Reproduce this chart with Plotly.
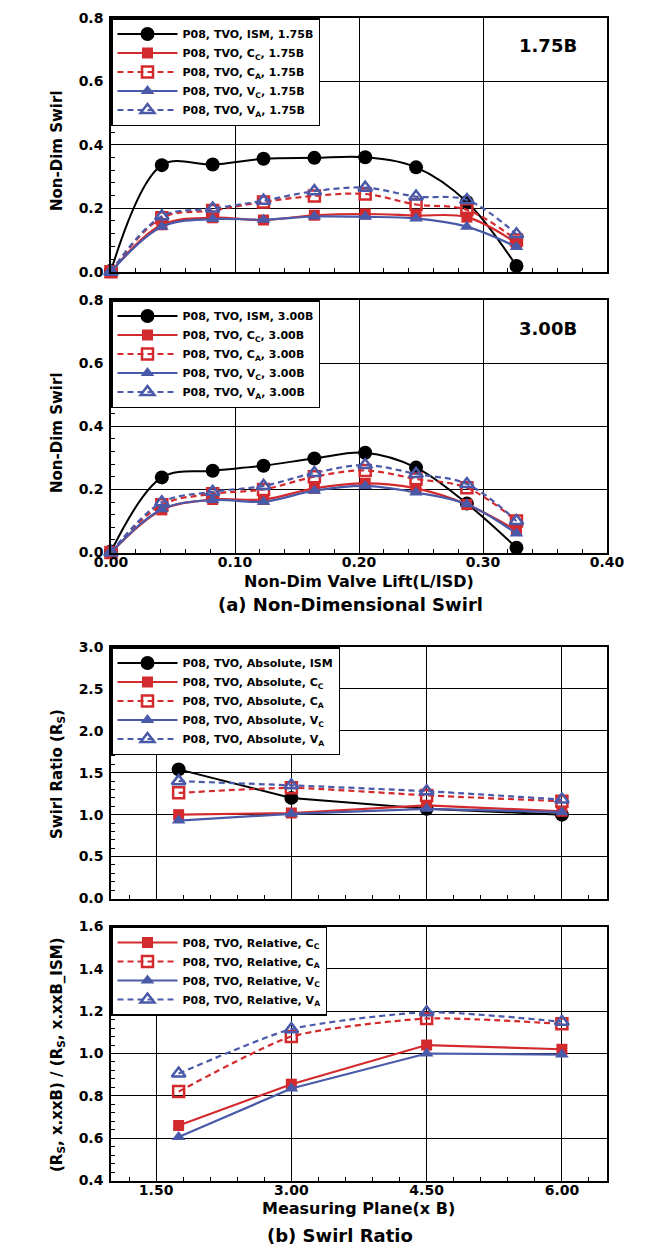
import plotly.graph_objects as go

# ---------------- data ----------------
lift = [0.000, 0.041, 0.082, 0.123, 0.164, 0.205, 0.246, 0.287, 0.327]

ism_175 = [0.003, 0.336, 0.338, 0.356, 0.359, 0.361, 0.329, 0.220, 0.018]
cc_175 = [0.000, 0.148, 0.170, 0.163, 0.178, 0.182, 0.177, 0.172, 0.090]
ca_175 = [0.000, 0.170, 0.193, 0.220, 0.239, 0.245, 0.212, 0.195, 0.100]
vc_175 = [0.000, 0.142, 0.166, 0.164, 0.174, 0.173, 0.168, 0.142, 0.078]
va_175 = [0.000, 0.175, 0.199, 0.224, 0.254, 0.265, 0.237, 0.226, 0.118]

ism_300 = [0.003, 0.238, 0.259, 0.275, 0.298, 0.316, 0.269, 0.155, 0.015]
cc_300 = [0.000, 0.135, 0.168, 0.168, 0.203, 0.219, 0.203, 0.152, 0.070]
ca_300 = [0.000, 0.151, 0.186, 0.200, 0.240, 0.260, 0.233, 0.205, 0.100]
vc_300 = [0.000, 0.137, 0.166, 0.161, 0.196, 0.211, 0.190, 0.153, 0.060]
va_300 = [0.000, 0.159, 0.192, 0.211, 0.252, 0.277, 0.249, 0.217, 0.100]

planes = [1.75, 3.00, 4.50, 6.00]
abs_ism = [1.54, 1.20, 1.07, 1.00]
abs_cc = [1.00, 1.02, 1.11, 1.04]
abs_ca = [1.26, 1.32, 1.23, 1.16]
abs_vc = [0.93, 1.01, 1.07, 1.03]
abs_va = [1.40, 1.35, 1.28, 1.18]

rel_cc = [0.660, 0.855, 1.040, 1.020]
rel_ca = [0.820, 1.080, 1.165, 1.140]
rel_vc = [0.605, 0.835, 1.000, 0.995]
rel_va = [0.905, 1.115, 1.195, 1.150]

# ---------------- styles ----------------
OFF = 8  # page body margin
W, H = 663 - OFF, 1259 - OFF
RED = '#d32a2e'
BLUE = '#4a5aa8'
FONT = 'DejaVu Sans'

STY = {
    'ism': dict(line=dict(color='black', width=2), marker=dict(symbol='circle', size=14, color='black')),
    'cc': dict(line=dict(color=RED, width=2.2), marker=dict(symbol='square', size=11, color=RED)),
    'ca': dict(line=dict(color=RED, width=2.2, dash='6px,4px'),
               marker=dict(symbol='square-open', size=11, color=RED, line=dict(width=2.5, color=RED))),
    'vc': dict(line=dict(color=BLUE, width=2.2), marker=dict(symbol='triangle-up', size=12, color=BLUE)),
    'va': dict(line=dict(color=BLUE, width=2.2, dash='6px,4px'),
               marker=dict(symbol='triangle-up-open', size=12, color=BLUE, line=dict(width=2.5, color=BLUE))),
}


def px_x(p):
    return (p - OFF) / W


def px_y(p):
    return 1 - (p - OFF) / H


fig = go.Figure()


def add(x, y, name, key, ax, legend, shape='spline', smoothing=1.0):
    st = STY[key]
    line = dict(st['line'])
    line['shape'] = shape
    if shape == 'spline':
        line['smoothing'] = smoothing
    fig.add_trace(go.Scatter(
        x=x, y=y, name=name, mode='lines+markers', line=line, marker=st['marker'],
        xaxis='x' + ax, yaxis='y' + ax, legend=legend, cliponaxis=False))


# panel 1
add(lift, ism_175, 'P08, TVO, ISM, 1.75B', 'ism', '', 'legend')
add(lift, cc_175, 'P08, TVO, C<sub>C</sub>, 1.75B', 'cc', '', 'legend')
add(lift, ca_175, 'P08, TVO, C<sub>A</sub>, 1.75B', 'ca', '', 'legend')
add(lift, vc_175, 'P08, TVO, V<sub>C</sub>, 1.75B', 'vc', '', 'legend')
add(lift, va_175, 'P08, TVO, V<sub>A</sub>, 1.75B', 'va', '', 'legend')
# panel 2
add(lift, ism_300, 'P08, TVO, ISM, 3.00B', 'ism', '2', 'legend2')
add(lift, cc_300, 'P08, TVO, C<sub>C</sub>, 3.00B', 'cc', '2', 'legend2')
add(lift, ca_300, 'P08, TVO, C<sub>A</sub>, 3.00B', 'ca', '2', 'legend2')
add(lift, vc_300, 'P08, TVO, V<sub>C</sub>, 3.00B', 'vc', '2', 'legend2')
add(lift, va_300, 'P08, TVO, V<sub>A</sub>, 3.00B', 'va', '2', 'legend2')
# panel 3
add(planes, abs_ism, 'P08, TVO, Absolute, ISM', 'ism', '3', 'legend3', shape='linear')
add(planes, abs_cc, 'P08, TVO, Absolute, C<sub>C</sub>', 'cc', '3', 'legend3', shape='linear')
add(planes, abs_ca, 'P08, TVO, Absolute, C<sub>A</sub>', 'ca', '3', 'legend3', smoothing=0.5)
add(planes, abs_vc, 'P08, TVO, Absolute, V<sub>C</sub>', 'vc', '3', 'legend3', shape='linear')
add(planes, abs_va, 'P08, TVO, Absolute, V<sub>A</sub>', 'va', '3', 'legend3', smoothing=0.5)
# panel 4
add(planes, rel_cc, 'P08, TVO, Relative, C<sub>C</sub>', 'cc', '4', 'legend4', shape='linear')
add(planes, rel_ca, 'P08, TVO, Relative, C<sub>A</sub>', 'ca', '4', 'legend4', smoothing=0.6)
add(planes, rel_vc, 'P08, TVO, Relative, V<sub>C</sub>', 'vc', '4', 'legend4', shape='linear')
add(planes, rel_va, 'P08, TVO, Relative, V<sub>A</sub>', 'va', '4', 'legend4', smoothing=0.6)

XDOM = [px_x(111), px_x(607)]
tickfont = dict(family=FONT, size=14, color='black', weight='bold')


def axis_common(**kw):
    d = dict(showline=True, linecolor='black', linewidth=1.5, mirror=True,
             ticks='inside', ticklen=7, tickwidth=1, tickcolor='black',
             showgrid=True, gridcolor='black', gridwidth=1, zeroline=False,
             tickfont=tickfont, ticklabelstandoff=3, fixedrange=True, automargin=False)
    d.update(kw)
    return d


MINX1 = dict(dtick=0.02, ticks='inside', ticklen=4, tickcolor='black', showgrid=False)
MINY1 = dict(dtick=0.04, ticks='inside', ticklen=4, tickcolor='black', showgrid=False)
MINX3 = dict(tick0=1.5, dtick=0.3, ticks='inside', ticklen=4, tickcolor='black', showgrid=False)
MINY3 = dict(dtick=0.1, ticks='inside', ticklen=4, tickcolor='black', showgrid=False)

lay = dict(
    width=W, height=H, margin=dict(l=0, r=0, t=0, b=0, autoexpand=False),
    paper_bgcolor='white', plot_bgcolor='white', showlegend=True,
    font=dict(family=FONT, color='black'),
    # panel 1
    xaxis=axis_common(domain=XDOM, anchor='y', range=[0, 0.4], dtick=0.1, tickformat='.2f',
                      showticklabels=False, minor=MINX1),
    yaxis=axis_common(domain=[px_y(271.7), px_y(18)], anchor='x', range=[0, 0.8], dtick=0.2,
                      tickformat='.1f', minor=MINY1),
    # panel 2
    xaxis2=axis_common(domain=XDOM, anchor='y2', range=[0, 0.4], dtick=0.1, tickformat='.2f',
                       ticklabelstandoff=-4, minor=MINX1),
    yaxis2=axis_common(domain=[px_y(552.5), px_y(300)], anchor='x2', range=[0, 0.8], dtick=0.2,
                       tickformat='.1f', minor=MINY1),
    # panel 3
    xaxis3=axis_common(domain=XDOM, anchor='y3', range=[1.0, 6.5], tickvals=[1.5, 3.0, 4.5, 6.0],
                       tickformat='.2f', showticklabels=False, minor=MINX3),
    yaxis3=axis_common(domain=[px_y(898.5), px_y(647)], anchor='x3', range=[0, 3.0], dtick=0.5,
                       tickformat='.1f', minor=MINY3),
    # panel 4
    xaxis4=axis_common(domain=XDOM, anchor='y4', range=[1.0, 6.5], tickvals=[1.5, 3.0, 4.5, 6.0],
                       tickformat='.2f', ticklabelstandoff=-4, minor=MINX3),
    yaxis4=axis_common(domain=[px_y(1180.5), px_y(926.5)], anchor='x4', range=[0.4, 1.6], dtick=0.2,
                       tickformat='.1f', minor=MINY1),
)

legfont = dict(family=FONT, size=11, color='black', weight='bold')


def leg(py):
    return dict(x=px_x(111), y=px_y(py), xanchor='left', yanchor='top', bgcolor='white',
                bordercolor='black', borderwidth=1.5, font=legfont, itemwidth=60,
                tracegroupgap=0, itemclick=False, itemdoubleclick=False)


lay['legend'] = leg(18)
lay['legend2'] = leg(300)
lay['legend3'] = leg(647)
lay['legend4'] = leg(926.5)

fig.update_layout(**lay)


def ann(text, x, y, size, angle=0):
    fig.add_annotation(text=text, x=px_x(x), y=px_y(y), xref='paper', yref='paper',
                       showarrow=False, textangle=angle, xanchor='center', yanchor='middle',
                       font=dict(family=FONT, size=size, color='black', weight='bold'))


ann('1.75B', 548, 46, 18)
ann('3.00B', 548, 328, 18)
ann('Non-Dim Swirl', 57, 151, 15, -90)
ann('Non-Dim Swirl', 57, 433, 15, -90)
ann('Swirl Ratio (R<sub>S</sub>)', 57, 774, 15, -90)
ann('(R<sub>S</sub>, x.xxB) / (R<sub>S</sub>, x.xxB_ISM)', 57, 1055, 15, -90)
ann('Non-Dim Valve Lift(L/ISD)', 359, 581, 16)
ann('(a) Non-Dimensional Swirl', 350, 605, 18)
ann('Measuring Plane(x B)', 358, 1208, 16)
ann('(b) Swirl Ratio', 340, 1235, 18)

fig.write_html('out.html')
